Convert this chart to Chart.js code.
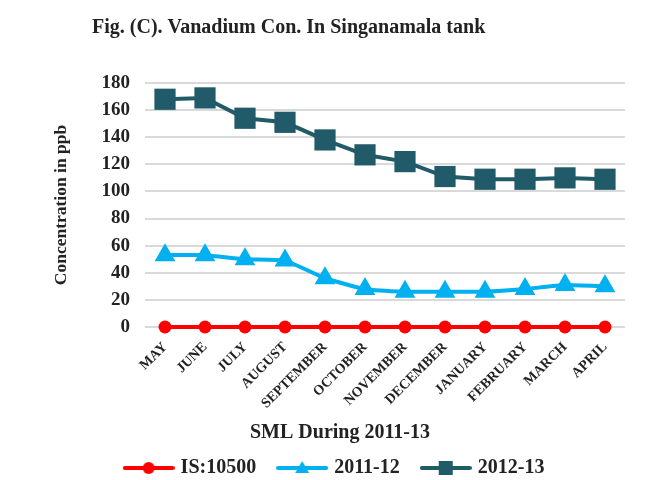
<!DOCTYPE html>
<html>
<head>
<meta charset="utf-8">
<script src="https://cdn.jsdelivr.net/npm/chart.js@4"></script>
<style>
  html, body { margin: 0; padding: 0; background: #fff; }
  #wrap { width: 656px; height: 480px; }
</style>
</head>
<body>
<div id="wrap"><canvas id="vanadium-chart" width="656" height="480"></canvas></div>
<script>
// Vanadium concentration, Singanamala tank
const months = ["MAY", "JUNE", "JULY", "AUGUST", "SEPTEMBER", "OCTOBER", "NOVEMBER",
	"DECEMBER", "JANUARY", "FEBRUARY", "MARCH", "APRIL"];

const is10500 = [0, 0, 0, 0, 0, 0, 0, 0, 0, 0, 0, 0];
const y2011 = [53, 53, 50, 49, 36, 28, 26, 26, 26, 28, 31, 30];
const y2012 = [168, 169, 154, 151, 138, 127, 122, 111, 109, 109, 110, 109];

const yTicks = [0, 20, 40, 60, 80, 100, 120, 140, 160, 180];

const figTitle = "Fig. (C). Vanadium Con. In Singanamala tank";
const xTitle = "SML During 2011-13";
const yTitle = "Concentration in ppb";

const serif = "'Liberation Serif', 'Times New Roman', serif";
const red = "#ff0000";
const blue = "#00b0f0";
const teal = "#215a69";

// legend symbol: line with marker
function legendSymbol(color, shape) {
	const c = document.createElement("canvas");
	c.width = 52;
	c.height = 18;
	const g = c.getContext("2d");
	g.strokeStyle = color;
	g.fillStyle = color;
	g.lineWidth = 4;
	g.lineCap = "round";
	g.beginPath();
	g.moveTo(2, 9);
	g.lineTo(50, 9);
	g.stroke();
	g.beginPath();
	if (shape === "circle") {
		g.arc(26, 9, 6, 0, Math.PI * 2);
	} else if (shape === "triangle") {
		g.moveTo(26, 2);
		g.lineTo(33, 14);
		g.lineTo(19, 14);
		g.closePath();
	} else {
		g.rect(19, 2, 14, 14);
	}
	g.fill();
	return c;
}

const symbols = [legendSymbol(red, "circle"), legendSymbol(blue, "triangle"), legendSymbol(teal, "rect")];

const extraText = {
	id: "extraText",
	afterDraw(chart) {
		const c = chart.ctx;
		c.save();
		c.fillStyle = "#222";
		c.textBaseline = "middle";
		c.font = "bold 20px " + serif;
		c.textAlign = "left";
		c.fillText(figTitle, 92, 28);
		c.font = "bold 20px " + serif;
		c.textAlign = "center";
		c.fillText(xTitle, 340, 433);
		c.restore();
	}
};

new Chart(document.getElementById("vanadium-chart"), {
	type: "line",
	data: {
		labels: months,
		datasets: [
			{
				label: "IS:10500",
				data: is10500,
				borderColor: red,
				backgroundColor: red,
				borderWidth: 4,
				pointStyle: "circle",
				pointRadius: 6.5,
				pointBorderWidth: 0,
				clip: false,
				tension: 0
			},
			{
				label: "2011-12",
				data: y2011,
				borderColor: blue,
				backgroundColor: blue,
				borderWidth: 4,
				pointStyle: "triangle",
				pointRadius: 12,
				pointBorderWidth: 0,
				clip: false,
				tension: 0.15
			},
			{
				label: "2012-13",
				data: y2012,
				borderColor: teal,
				backgroundColor: teal,
				borderWidth: 4,
				pointStyle: "rect",
				pointRadius: 15,
				pointBorderWidth: 0,
				clip: false,
				tension: 0
			}
		]
	},
	options: {
		responsive: false,
		animation: false,
		layout: {
			padding: { top: 83, left: 46, right: 31, bottom: -8 }
		},
		plugins: {
			title: { display: false },
			tooltip: { enabled: false },
			legend: {
				position: "bottom",
				labels: {
					usePointStyle: true,
					pointStyleWidth: 44,
					padding: 24,
					color: "#222",
					font: { family: serif, size: 20, weight: "bold" },
					generateLabels: function (chart) {
						return chart.data.datasets.map((ds, i) => ({
							text: ds.label,
							pointStyle: symbols[i],
							fillStyle: ds.borderColor,
							strokeStyle: ds.borderColor,
							lineWidth: 0,
							hidden: false,
							datasetIndex: i,
							fontColor: "#222"
						}));
					}
				}
			}
		},
		scales: {
			x: {
				offset: true,
				grid: { display: false },
				border: { display: false },
				ticks: {
					color: "#222",
					minRotation: 45,
					maxRotation: 45,
					autoSkip: false,
					padding: 4,
					font: { family: serif, size: 14, weight: "bold" }
				},
				afterFit: function (scale) {
					scale.height = 107;
				}
			},
			y: {
				min: 0,
				max: 180,
				afterBuildTicks: function (scale) {
					scale.ticks = yTicks.map(v => ({ value: v }));
				},
				grid: { color: "#d9d9d9", lineWidth: 2, drawTicks: false },
				border: { display: false },
				ticks: {
					color: "#222",
					padding: 15,
					font: { family: serif, size: 19, weight: "bold" }
				},
				title: {
					display: true,
					text: yTitle,
					color: "#222",
					padding: { top: 5, bottom: 0 },
					font: { family: serif, size: 17.5, weight: "bold" }
				},
				afterFit: function (scale) {
					scale.width = 99;
				}
			}
		}
	},
	plugins: [extraText]
});
</script>
</body>
</html>
